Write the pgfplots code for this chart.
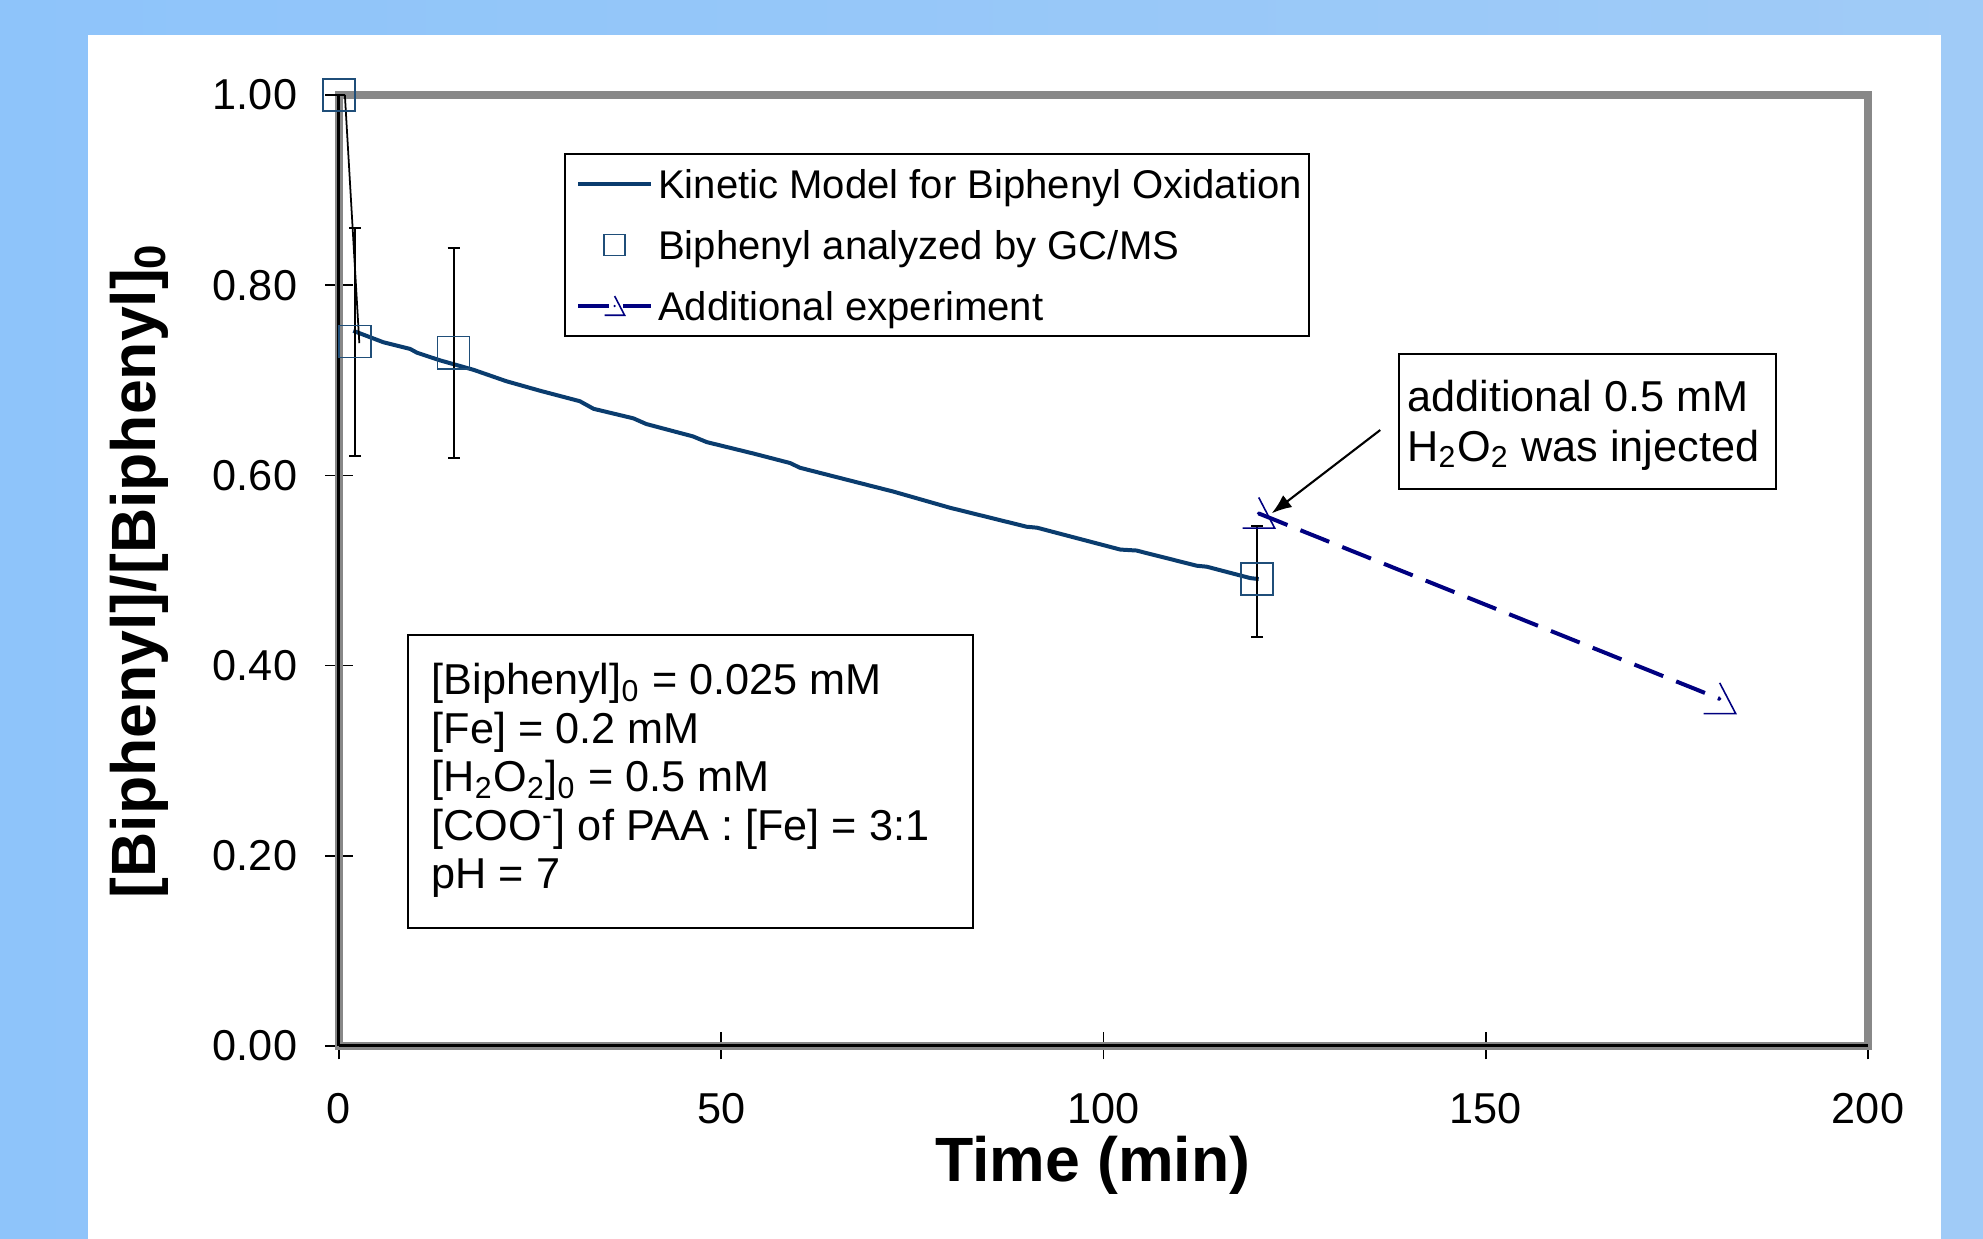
\documentclass[border=0pt]{standalone}
\usepackage{fontspec}
\setmainfont{Liberation Sans}
\usepackage{pgfplots}
\pgfplotsset{compat=1.18}
\usetikzlibrary{arrows.meta}

\definecolor{bgL}{RGB}{142,196,250}
\definecolor{bgR}{RGB}{160,203,247}
\definecolor{modelblue}{RGB}{10,60,110}
\definecolor{gcms}{RGB}{31,78,121}
\definecolor{addnavy}{RGB}{0,0,128}
\definecolor{framegray}{RGB}{136,136,136}

% open triangle without its left side, as in the reference
\pgfdeclareplotmark{halftri}{%
  \pgfpathmoveto{\pgfqpoint{0pt}{\pgfplotmarksize}}%
  \pgfpathlineto{\pgfqpoint{\pgfplotmarksize}{-0.92\pgfplotmarksize}}%
  \pgfpathlineto{\pgfqpoint{-\pgfplotmarksize}{-0.92\pgfplotmarksize}}%
  \pgfusepathqstroke
  \pgfpathcircle{\pgfpointorigin}{0.12\pgfplotmarksize}%
  \pgfusepathqfill
}

\pgfplotsset{
  lineimg/.style={legend image code/.code={\path (-0.09cm,0cm);
    \draw[##1] (0cm,0cm) -- (0.73cm,0cm);}},
  markimg/.style={legend image code/.code={\path (-0.09cm,0cm) (0.73cm,0cm);
    \draw[##1, mark size=0.105cm] plot coordinates {(0.365cm,0cm)};}},
  dashimg/.style={legend image code/.code={\path (-0.09cm,0cm);
    \draw[mark repeat=2, mark phase=2, ##1, mark size=0.1cm]
      plot coordinates {(0cm,0cm) (0.365cm,0cm) (0.73cm,0cm)};}},
}

\newcommand\bodyfont{\fontsize{12.3}{14.8}\selectfont}
\newcommand\labelfont{\bfseries\fontsize{17.8}{20}\selectfont}

\begin{document}
\begin{tikzpicture}
\shade[left color=bgL, right color=bgR] (-3.39,-1.93) rectangle (16.44,10.46);
\fill[white] (-2.51,-1.93) rectangle (16.02,10.11);
\begin{axis}[
  at={(0,0)}, anchor=south west,
  scale only axis, width=15.29cm, height=9.51cm,
  xmin=0, xmax=200, ymin=0, ymax=1,
  xtick={0,50,100,150,200},
  ytick={0,0.2,0.4,0.6,0.8,1},
  xtick pos=left, ytick pos=left,
  tick align=center,
  major tick length=0.27cm,
  tick style={black, line width=0.5pt},
  axis line style={framegray, line width=0.08cm},
  tick label style={font=\bodyfont},
  /pgf/number format/assume math mode=true,
  xticklabel style={yshift=-0.21cm},
  yticklabel style={xshift=-0.16cm, /pgf/number format/.cd, fixed, fixed zerofill, precision=2},
  xlabel={Time (min)},
  ylabel={[Biphenyl]/[Biphenyl]\textsubscript{0}},
  xlabel style={at={(axis description cs:0.4929,0)}, anchor=base, yshift=-1.357cm, font=\labelfont},
  ylabel style={at={(axis description cs:-0.1197,0.5)}, anchor=base, font=\labelfont},
  clip=false,
  legend cell align=left,
  legend style={at={(0.1472,0.939)}, anchor=north west, draw=black,
    line width=0.6pt, fill=white, font=\fontsize{11.4}{13.7}\selectfont,
    inner xsep=0.02cm, inner ysep=0.155cm, row sep=0.32cm,
    nodes={inner xsep=0.05cm, inner ysep=0cm, text height=0.29cm, text depth=0cm}},
]
\draw[black, line width=0.03cm] (axis cs:0,0) -- (axis cs:0,1);
\draw[black, line width=0.03cm] (axis cs:0,0) -- (axis cs:200,0);

\addplot[modelblue, line width=0.04cm, lineimg]
coordinates {
  (1.87,0.752) (5.8,0.740) (9.3,0.733) (10.2,0.729) (13.2,0.721) (17.6,0.711)
  (21.9,0.699) (26.3,0.689) (31.5,0.678) (33.3,0.670) (38.5,0.660) (40.2,0.654)
  (46.3,0.641) (48.1,0.635) (54.2,0.623) (59.0,0.613) (60.3,0.608) (68.1,0.592)
  (72.5,0.583) (79.9,0.566) (89.95,0.546) (91.3,0.545) (102.2,0.522) (104.3,0.521)
  (112.2,0.505) (113.5,0.504) (119.2,0.492) (120.3,0.491)
};
\addlegendentry{Kinetic Model for Biphenyl Oxidation}

\addplot[gcms, only marks, mark=square, mark size=0.16cm,
  mark options={line width=0.45pt}, markimg,
  error bars/.cd, y dir=both, y explicit,
  error bar style={black, line width=0.6pt},
  error mark options={rotate=90, black, mark size=0.06cm, line width=0.6pt}]
coordinates {
  (0,1.0) += (0,0) -= (0,0)
  (2.1,0.741) += (0,0.119) -= (0,0.121)
  (15,0.729) += (0,0.110) -= (0,0.111)
  (120.1,0.491) += (0,0.056) -= (0,0.061)
};
\addlegendentry{Biphenyl analyzed by GC/MS}

\addplot[black, line width=0.5pt, forget plot] coordinates {(0.77,1.0) (2.66,0.739)};

\addplot[addnavy, line width=0.04cm, dash pattern=on 0.31cm off 0.14cm,
  mark=halftri, mark size=0.16cm, mark options={solid, line width=0.45pt}, dashimg]
coordinates {(120.3,0.560) (180.6,0.365)};
\addlegendentry{Additional experiment}

% conditions box
\draw[black, line width=0.6pt] (axis cs:9.03,0.4322) rectangle (axis cs:82.93,0.1241);
\node[anchor=base west, font=\bodyfont, inner sep=0] at (axis cs:12.03,0.3694) {[Biphenyl]\textsubscript{0} = 0.025 mM};
\node[anchor=base west, font=\bodyfont, inner sep=0] at (axis cs:12.03,0.3179) {[Fe] = 0.2 mM};
\node[anchor=base west, font=\bodyfont, inner sep=0] at (axis cs:12.03,0.2673) {[H\textsubscript{2}O\textsubscript{2}]\textsubscript{0} = 0.5 mM};
\node[anchor=base west, font=\bodyfont, inner sep=0] at (axis cs:12.03,0.2161) {[COO\textsuperscript{-}] of PAA : [Fe] = 3:1};
\node[anchor=base west, font=\bodyfont, inner sep=0] at (axis cs:12.03,0.1651) {pH = 7};

% injection note
\draw[black, line width=0.6pt, fill=white] (axis cs:138.65,0.7277) rectangle (axis cs:187.97,0.5857);
\node[anchor=base west, font=\bodyfont, inner sep=0] at (axis cs:139.65,0.6671) {additional 0.5 mM};
\node[anchor=base west, font=\bodyfont, inner sep=0] at (axis cs:139.65,0.6151) {H\textsubscript{2}O\textsubscript{2} was injected};
\draw[black, line width=0.6pt, -{Latex[length=0.2cm, width=0.15cm]}]
  (axis cs:136.2,0.6477) -- (axis cs:122.0,0.5601);
\end{axis}
\pgfresetboundingbox
\useasboundingbox (-3.39,-1.93) rectangle (16.44,10.46);
\end{tikzpicture}
\end{document}
